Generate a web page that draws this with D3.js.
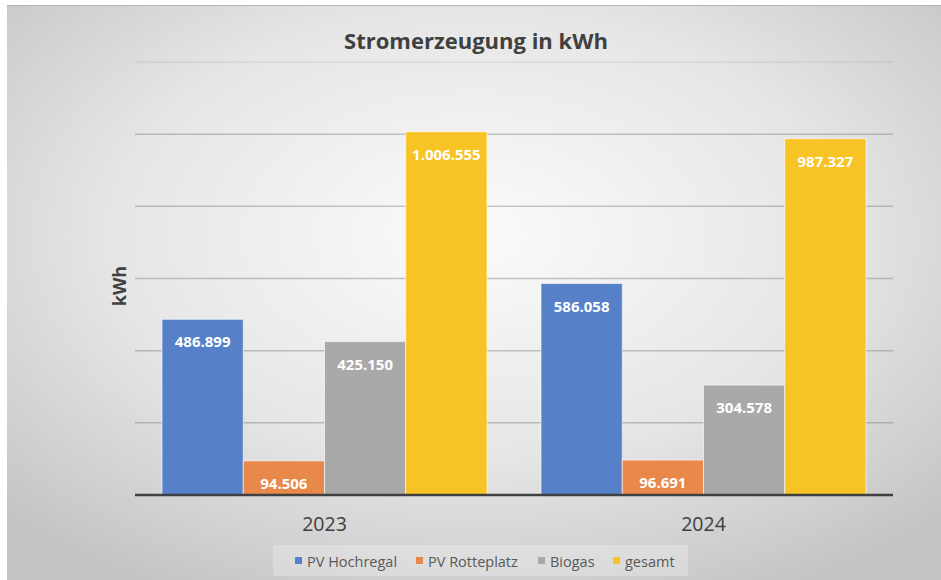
<!DOCTYPE html>
<html>
<head>
<meta charset="utf-8">
<script src="https://cdn.jsdelivr.net/npm/d3@7"></script>
<style>
  body { margin: 0; background: #fff; }
  svg { display: block; font-family: "Open Sans", "Noto Sans", sans-serif; }
</style>
</head>
<body>
<div id="chart"></div>
<script>
const years = ["2023", "2024"];
const seriesNames = ["PV Hochregal", "PV Rotteplatz", "Biogas", "gesamt"];
const hochregal = [486899, 586058];
const rotteplatz = [94506, 96691];
const biogas = [425150, 304578];
const gesamt = [1006555, 987327];
const yTicks = [0, 200000, 400000, 600000, 800000, 1000000, 1200000];
const colors = ["#5681c9", "#e8884a", "#a9a9a9", "#f7c325"];

const width = 941, height = 580;
const seriesValues = [hochregal, rotteplatz, biogas, gesamt];

const svg = d3.select("#chart").append("svg")
    .attr("width", width).attr("height", height);

// background panel with soft radial gradient
const defs = svg.append("defs");
const grad = defs.append("radialGradient").attr("id", "bg")
    .attr("cx", "50%").attr("cy", "40%").attr("r", "70%");
grad.append("stop").attr("offset", "0%").attr("stop-color", "#fbfbfb");
grad.append("stop").attr("offset", "55%").attr("stop-color", "#e6e6e6");
grad.append("stop").attr("offset", "100%").attr("stop-color", "#c4c4c4");

svg.append("rect").attr("x", 7).attr("y", 5)
    .attr("width", width - 7).attr("height", height - 5)
    .attr("fill", "url(#bg)");
svg.append("line").attr("x1", 7).attr("x2", width).attr("y1", 5.5).attr("y2", 5.5)
    .attr("stroke", "#b5b5b5").attr("stroke-width", 1);

const plotLeft = 135, plotRight = 893, baseY = 495, topY = 62;

const x0 = d3.scaleBand().domain(years).range([plotLeft, plotRight]).padding(0);
const x1 = d3.scaleBand().domain(seriesNames)
    .range([27, x0.bandwidth() - 27]).padding(0);
const y = d3.scaleLinear().domain([0, 1200000]).range([baseY, topY]);

// gridlines
svg.append("g").selectAll("line")
    .data(yTicks.filter(d => d > 0))
    .join("line")
    .attr("x1", plotLeft).attr("x2", plotRight)
    .attr("y1", d => y(d)).attr("y2", d => y(d))
    .attr("stroke", "#6e6e6e")
    .attr("stroke-opacity", d => d === 1200000 ? 0.12 : 0.38)
    .attr("stroke-width", 1.5);

// bars
const groups = svg.append("g").selectAll("g")
    .data(years)
    .join("g")
    .attr("transform", d => `translate(${x0(d)},0)`);

groups.selectAll("rect")
    .data((yr, i) => seriesNames.map((s, j) => ({ s, j, v: seriesValues[j][i] })))
    .join("rect")
    .attr("x", d => x1(d.s))
    .attr("y", d => y(d.v))
    .attr("width", x1.bandwidth())
    .attr("height", d => baseY - y(d.v))
    .attr("fill", d => colors[d.j])
    .attr("stroke", "rgba(255,255,255,0.6)")
    .attr("stroke-width", 1);

const fmt = v => d3.format(",")(v).replace(/,/g, ".");

groups.selectAll("text")
    .data((yr, i) => seriesNames.map((s, j) => ({ s, j, v: seriesValues[j][i] })))
    .join("text")
    .attr("x", d => x1(d.s) + x1.bandwidth() / 2)
    .attr("y", d => y(d.v) + 28)
    .attr("text-anchor", "middle")
    .attr("fill", "#ffffff")
    .attr("font-weight", "bold")
    .attr("font-size", 15)
    .text(d => fmt(d.v));

// baseline axis
svg.append("line").attr("x1", plotLeft).attr("x2", plotRight)
    .attr("y1", baseY).attr("y2", baseY)
    .attr("stroke", "#404040").attr("stroke-width", 2.5);

// category labels
svg.append("g").selectAll("text")
    .data(years)
    .join("text")
    .attr("x", d => x0(d) + x0.bandwidth() / 2)
    .attr("y", 531)
    .attr("text-anchor", "middle")
    .attr("fill", "#404040")
    .attr("font-size", 19.5)
    .text(d => d);

// title
svg.append("text").attr("x", 476).attr("y", 49)
    .attr("text-anchor", "middle")
    .attr("fill", "#404040")
    .attr("font-weight", "bold")
    .attr("font-size", 22)
    .text("Stromerzeugung in kWh");

// y axis title
svg.append("text")
    .attr("transform", "translate(126,286) rotate(-90)")
    .attr("text-anchor", "middle")
    .attr("fill", "#404040")
    .attr("font-weight", "bold")
    .attr("font-size", 18)
    .text("kWh");

// legend
const legend = svg.append("g");
legend.append("rect").attr("x", 273).attr("y", 545)
    .attr("width", 415).attr("height", 31)
    .attr("fill", "#ffffff").attr("fill-opacity", 0.25);

const legendX = [295, 416, 538, 613];
const items = legend.selectAll("g")
    .data(seriesNames)
    .join("g")
    .attr("transform", (d, i) => `translate(${legendX[i]},561)`);
items.append("rect")
    .attr("x", 0).attr("y", -4).attr("width", 7).attr("height", 7)
    .attr("fill", (d, i) => colors[i]);
items.append("text")
    .attr("x", 12).attr("y", 5.5)
    .attr("fill", "#595959")
    .attr("font-size", 14.5)
    .text(d => d);
</script>
</body>
</html>
